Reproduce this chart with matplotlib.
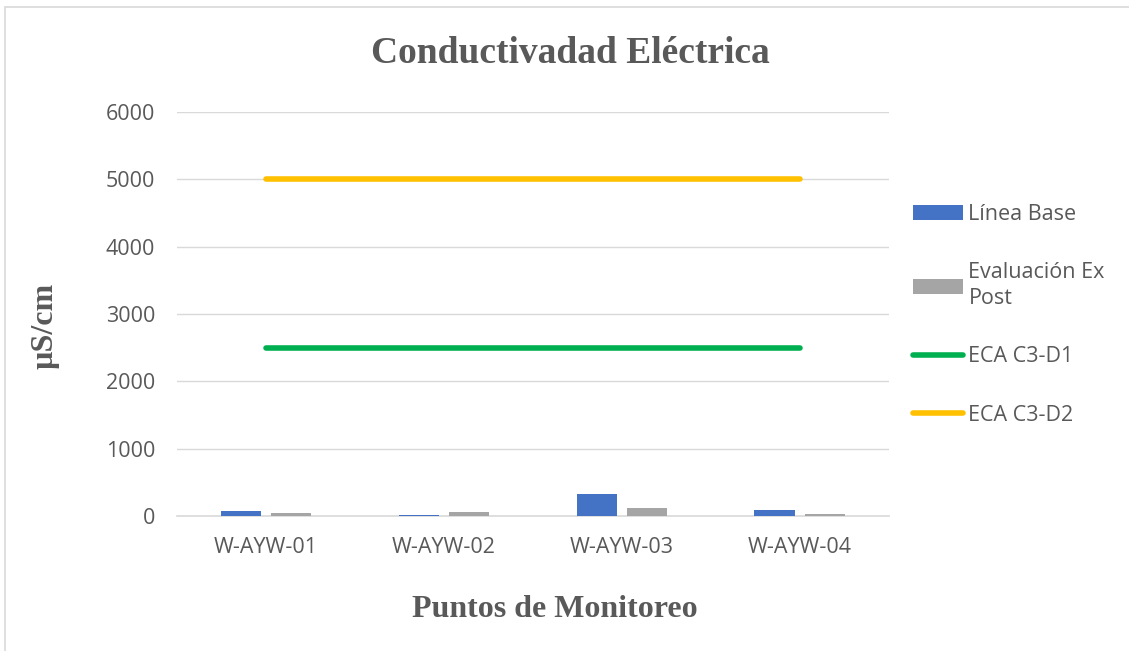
import numpy as np
import matplotlib
matplotlib.use("Agg")
import matplotlib.pyplot as plt
from matplotlib.patches import Rectangle

# values
puntos = ["W-AYW-01", "W-AYW-02", "W-AYW-03", "W-AYW-04"]
linea_base = [70, 20, 322, 85]
ex_post = [40, 65, 125, 30]
eca_d1 = [2500, 2500, 2500, 2500]
eca_d2 = [5000, 5000, 5000, 5000]
yticks = [0, 1000, 2000, 3000, 4000, 5000, 6000]

text_grey = "#595959"
tick_font = "Open Sans"

fig = plt.figure(figsize=[11.29, 6.51], dpi=100)
ax = fig.add_axes([0.157, 0.2074, 0.63, 0.6206])

x = np.arange(len(puntos))
w = 0.227
b1 = ax.bar(x - 0.141, linea_base, width=w, color="#4472C4", label="Línea Base", zorder=3)
b2 = ax.bar(x + 0.141, ex_post, width=w, color="#A5A5A5", label="Evaluación Ex\nPost", zorder=3)
l1, = ax.plot(x, eca_d1, color="#00B050", linewidth=4, solid_capstyle="round", label="ECA C3-D1", zorder=4)
l2, = ax.plot(x, eca_d2, color="#FFC000", linewidth=4, solid_capstyle="round", label="ECA C3-D2", zorder=4)

ax.set_xlim(-0.5, 3.5)
ax.set_ylim(0, 6000)
ax.set_yticks(yticks)
ax.set_xticks(x)
ax.set_xticklabels(puntos)
ax.grid(axis="y", color="#D9D9D9", linewidth=1, zorder=0)
for s in ["top", "right", "left"]:
    ax.spines[s].set_visible(False)
ax.spines["bottom"].set_color("#D9D9D9")
ax.spines["bottom"].set_linewidth(1.2)
ax.tick_params(axis="both", length=0, labelsize=15.5, labelcolor=text_grey)
ax.tick_params(axis="y", pad=16)
ax.tick_params(axis="x", pad=15)
for lab in ax.get_xticklabels() + ax.get_yticklabels():
    lab.set_family(tick_font)

fig.text(0.505, 0.918, "Conductivadad Eléctrica", ha="center", va="center",
         family="Liberation Serif", fontweight="bold", fontsize=27, color=text_grey)
fig.text(0.491, 0.063, "Puntos de Monitoreo", ha="center", va="center",
         family="Liberation Serif", fontweight="bold", fontsize=23, color=text_grey)
fig.text(0.040, 0.499, "µS/cm", ha="center", va="center", rotation=90,
         family="Liberation Serif", fontweight="bold", fontsize=23, color=text_grey)

leg = ax.legend(handles=[b1, b2, l1, l2], loc="center left", bbox_to_anchor=(1.0225, 0.498),
                frameon=False, prop={"family": tick_font, "size": 15.5}, labelspacing=1.73,
                handlelength=2.3, handletextpad=0.27, borderaxespad=0)
for t in leg.get_texts():
    t.set_color(text_grey)
    t.set_linespacing(1.3)

fig.patches.append(Rectangle((0.004, -0.01), 1.1, 0.999, transform=fig.transFigure,
                             fill=False, edgecolor="#D9D9D9", linewidth=1.2))

fig.savefig("out.png", dpi=100)
plt.close()
